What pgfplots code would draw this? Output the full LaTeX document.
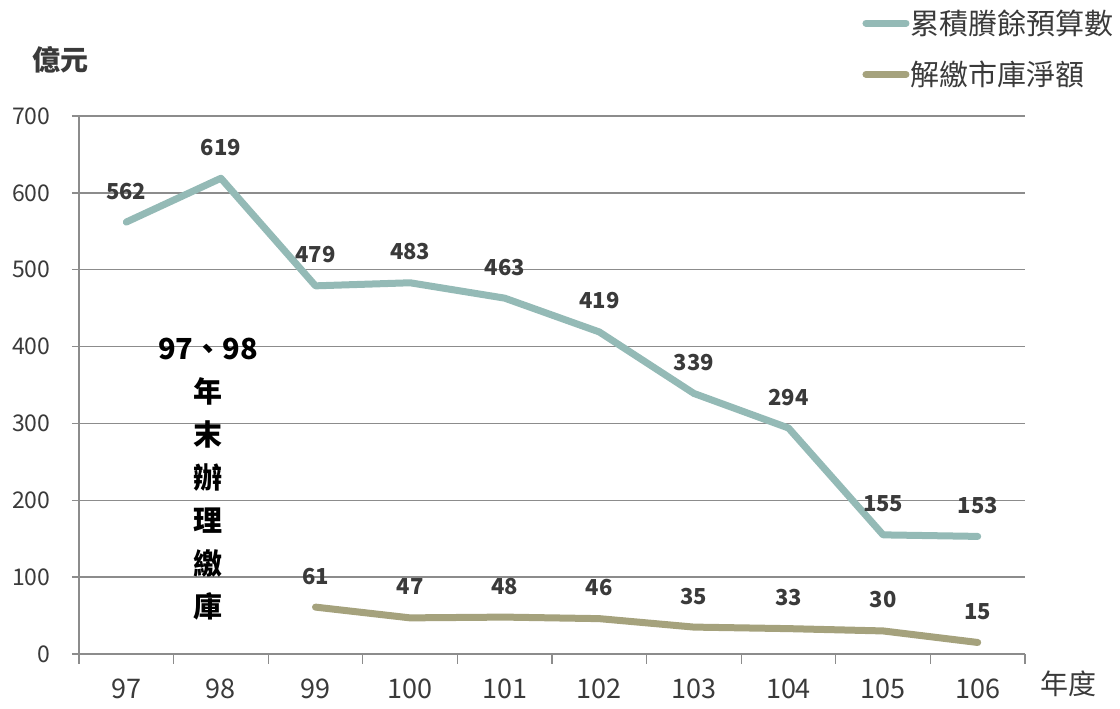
\documentclass[border=0pt]{standalone}
\usepackage{fontspec}
\usepackage{pgfplots}
\pgfplotsset{compat=1.18}
\setmainfont{Noto Sans CJK TC}

\definecolor{surplus}{HTML}{94BAB6}
\definecolor{paid}{HTML}{A5A27D}
\definecolor{gridc}{HTML}{8C8C8C}
\definecolor{txt}{HTML}{3A3A3A}

\begin{document}
\begin{tikzpicture}[x=1pt,y=1pt]
\useasboundingbox (-79,-55) rectangle (1041,654);
\begin{axis}[
  at={(0,0)}, anchor=south west,
  scale only axis,
  width=946pt, height=538pt,
  xmin=-0.5, xmax=9.5,
  ymin=0, ymax=700,
  axis lines*=left,
  axis line style={gridc, line width=1.3pt},
  xtick={0,...,9},
  xticklabels={97,98,99,100,101,102,103,104,105,106},
  minor xtick={-0.5,0.5,...,9.5},
  ytick={0,100,...,700},
  ymajorgrids,
  grid style={gridc, line width=1.3pt},
  tick align=outside,
  tick style={gridc, line width=1.3pt},
  major tick length=7pt,
  minor tick length=10pt,
  every major x tick/.style={draw=none},
  /pgf/number format/assume math mode=true,
  xticklabel style={font=\fontsize{27}{27}\selectfont, text=txt, yshift=-14pt},
  yticklabel style={font=\fontsize{23}{23}\selectfont, text=txt, xshift=-18pt},
  nodes near coords,
  point meta=explicit symbolic,
  nodes near coords style={font=\bfseries\fontsize{22}{22}\selectfont, text=txt, anchor=center, yshift=31pt},
  legend style={draw=none, fill=none, at={(0.828,1.199)}, anchor=north west,
    font=\fontsize{29}{29}\selectfont, text=txt, row sep=23pt, inner sep=0pt,
    nodes={inner sep=1pt}},
  legend cell align=left,
  legend image code/.code={\draw[#1, line width=7pt, line cap=round] (0pt,0pt) -- (40pt,0pt);},
  clip=false,
]
\addplot[surplus, line width=7pt, line cap=round, line join=round] table[meta=v] {
x v
0 562
1 619
2 479
3 483
4 463
5 419
6 339
7 294
8 155
9 153
};
\addlegendentry{累積賸餘預算數}
\addplot[paid, line width=7pt, line cap=round, line join=round] table[meta=v] {
x v
2 61
3 47
4 48
5 46
6 35
7 33
8 30
9 15
};
\addlegendentry{解繳市庫淨額}

\node[font=\bfseries\fontsize{28}{28}\selectfont, text=txt] at (rel axis cs:-0.020,1.104) {億元};
\node[font=\fontsize{28}{28}\selectfont, text=txt] at (rel axis cs:1.0455,-0.0558) {年度};
\node[font=\bfseries\fontsize{29}{43}\selectfont, text=black, align=center] at (axis cs:0.864,227)
  {97、98\\年\\末\\辦\\理\\繳\\庫};
\end{axis}
\end{tikzpicture}
\end{document}
